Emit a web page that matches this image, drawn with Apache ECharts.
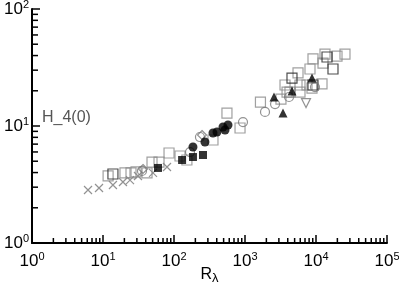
<!DOCTYPE html>
<html><head><meta charset="utf-8">
<script src="https://cdn.jsdelivr.net/npm/echarts@6/dist/echarts.min.js"></script>
<style>html,body{margin:0;padding:0;background:#fff}#c{width:399px;height:284px}</style>
</head><body><div id="c"></div>
<script>
// axis decades (tick labels 10^0 ... 10^5, 10^0 ... 10^2)
const xDecades = [1, 10, 100, 1000, 10000, 100000];
const yDecades = [1, 10, 100];
const minorMult = [2, 3, 4, 5, 6, 7, 8, 9];

// series values [R_lambda, H_4(0)]
const crosses = [[6.15,2.84],[8.79,2.95],[13.8,3.13],[19.1,3.32],[24.0,3.45],[31.1,3.74],[50.6,3.97],[79.7,4.46]];
const squaresGray = [[11.8,3.74],[20.4,3.97],[24.8,3.97],[29.2,4.05],[41.7,3.97],[49.0,4.92],[61.5,4.92],[85.1,5.88],[121.5,5.54],[152,5.12],[354,7.59],[557,12.9],[851,9.61],[1650,16.0],
  [9070,37.4],[13390,41.2],[12550,34.5],[19770,39.6],[25600,41.2],[8230,30.7],[5580,28.4],[3660,22.4],[4300,19.5],[3210,17.0],[5950,22.4],[7470,22.4],[12150,22.9],[8780,21.1],[5950,19.5],[3910,19.5]];
const squaresDark = [[13.8,3.89],[14290,38.9],[17350,30.7],[4590,25.7],[9070,22.4]];
const filledSquares = [[59.5,4.38],[130,5.12],[185,5.43],[256,5.65]];
const filledCircles = [[185,6.62],[273,7.30],[354,8.71],[403,8.89],[490,9.80],[523,9.25],[576,10.2]];
const openCircles = [[35.4,4.13],[168,5.99],[232,8.05],[937,10.8],[1913,13.2],[2650,15.4],[4170,17.7],[9680,21.5]];
const diamonds = [[36.6,4.29],[248,8.38]];
const filledTriangles = [[2560,17.7],[4590,19.9],[8780,25.7],[3430,12.9]];
const openInvTriangles = [[7230,15.7]];

const FONT = "'Liberation Sans', Arial, sans-serif";
const chart = echarts.init(document.getElementById('c'), null, {renderer: 'canvas'});

const xTicks = [], yTicks = [];
xDecades.forEach((d, i) => { xTicks.push([d, 1, 1]); if (i < xDecades.length - 1) minorMult.forEach(m => xTicks.push([d * m, 1, 0])); });
yDecades.forEach((d, i) => { yTicks.push([1, d, 1]); if (i < yDecades.length - 1) minorMult.forEach(m => yTicks.push([1, d * m, 0])); });

function fmt(v) { const e = Math.round(Math.log10(v)); return '{b|10}{s|' + e + '}'; }
const rich = { b: {fontSize: 17, fontFamily: FONT, color: '#000'}, s: {fontSize: 11, fontFamily: FONT, color: '#000', padding: [0, 0, 9, 0]} };

function open(name, data, symbol, color, size, extra) {
  return Object.assign({ name, type: 'scatter', data, symbol, symbolSize: size,
    itemStyle: { color: 'rgba(0,0,0,0)', borderColor: color, borderWidth: 1.2 } , z: 3}, extra || {});
}
function filled(name, data, symbol, size) {
  return { name, type: 'scatter', data, symbol, symbolSize: size, itemStyle: { color: '#000' }, z: 4 };
}

chart.setOption({
  animation: false,
  backgroundColor: '#fff',
  grid: { left: 32, right: 12, top: 9, bottom: 41, containLabel: false, outerBoundsMode: 'none' },
  xAxis: { type: 'log', logBase: 10, min: 1, max: 100000,
    axisLine: { lineStyle: { color: '#000', width: 2 } }, axisTick: { show: false }, splitLine: { show: false },
    axisLabel: { formatter: fmt, rich, margin: 8 },
    name: 'R{l|λ}', nameLocation: 'middle', nameGap: 22, nameMoveOverlap: false,
    nameTextStyle: { fontSize: 16, fontFamily: FONT, color: '#000', rich: { l: { fontSize: 13, fontFamily: FONT, padding: [7, 0, 0, 0] } } } },
  yAxis: { type: 'log', logBase: 10, min: 1, max: 100,
    axisLine: { lineStyle: { color: '#000', width: 2 } }, axisTick: { show: false }, splitLine: { show: false },
    axisLabel: { formatter: fmt, rich, margin: 3 } },
  graphic: [{ type: 'text', left: 42, top: 110, style: { text: 'H_4(0)', font: '16px ' + FONT, fill: '#555' } }],
  series: [
    { type: 'custom', data: xTicks, silent: true, clip: false, z: 5,
      renderItem: (p, api) => { const pt = api.coord([api.value(0), api.value(1)]); const len = api.value(2) ? 8 : 5;
        return { type: 'line', shape: { x1: pt[0], y1: pt[1], x2: pt[0], y2: pt[1] - len }, style: { stroke: '#000', lineWidth: 1.5 } }; } },
    { type: 'custom', data: yTicks, silent: true, clip: false, z: 5,
      renderItem: (p, api) => { const pt = api.coord([api.value(0), api.value(1)]); const len = api.value(2) ? 8 : 6;
        return { type: 'line', shape: { x1: pt[0], y1: pt[1], x2: pt[0] + len, y2: pt[1] }, style: { stroke: '#000', lineWidth: 1.5 } }; } },
    open('crosses', crosses, 'path://M0,0L10,10M10,0L0,10', '#777', 8),
    open('squaresGray', squaresGray, 'rect', '#888', 10),
    open('squaresDark', squaresDark, 'rect', '#222', 10),
    open('openCircles', openCircles, 'circle', '#777', 9),
    open('diamonds', diamonds, 'diamond', '#777', 9),
    open('openInvTriangles', openInvTriangles, 'triangle', '#777', 9, { symbolRotate: 180 }),
    filled('filledSquares', filledSquares, 'rect', 8),
    filled('filledCircles', filledCircles, 'circle', 9),
    filled('filledTriangles', filledTriangles, 'triangle', 9)
  ]
});
</script>
</body></html>
